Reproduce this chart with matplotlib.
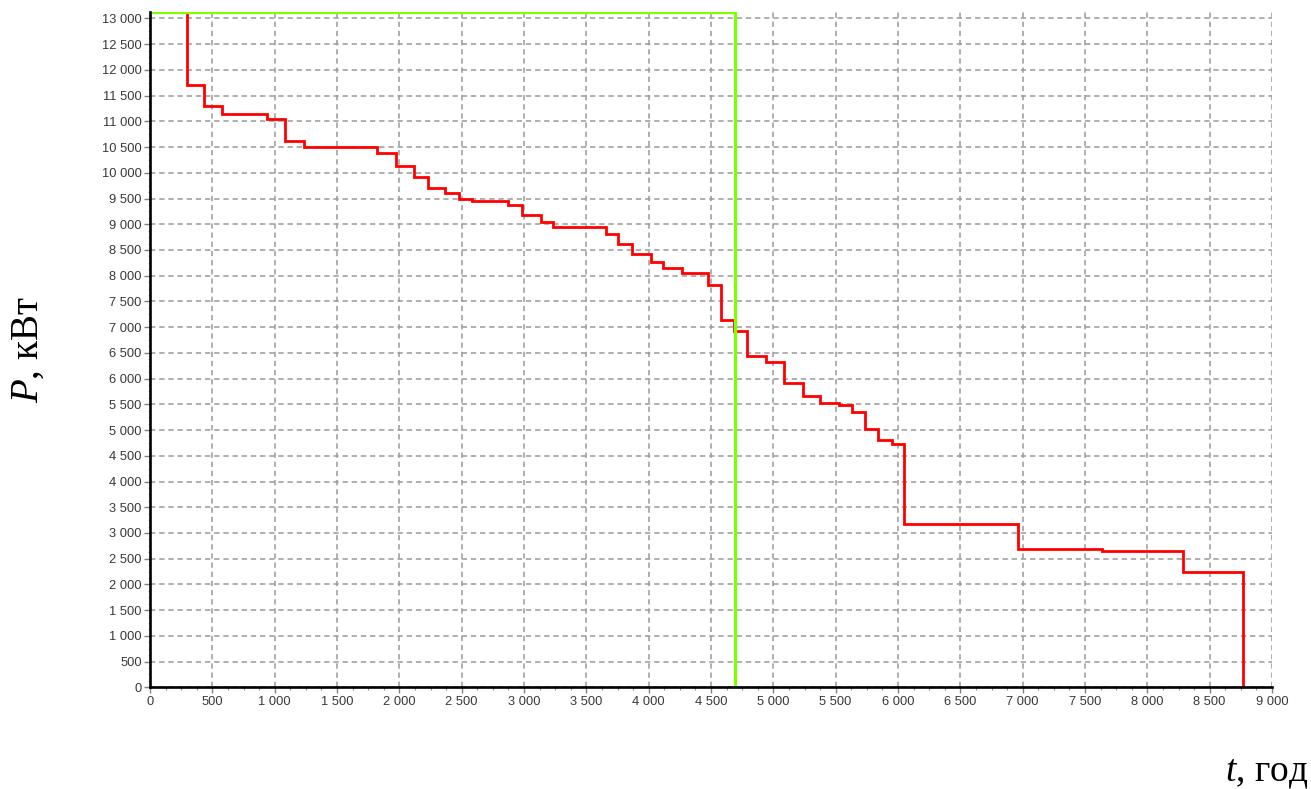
import matplotlib
matplotlib.use("Agg")
import matplotlib.pyplot as plt
from matplotlib.ticker import MultipleLocator, FuncFormatter, AutoMinorLocator

# Step boundaries (hours) and power levels (kW) of the load duration curve
t_edges = [0, 294, 431, 580, 941, 1086, 1236, 1822, 1971, 2121, 2227, 2369, 2482,
           2586, 2872, 2987, 3134, 3230, 3656, 3758, 3868, 4017, 4114, 4265, 4475,
           4582, 4686, 4788, 4940, 5087, 5234, 5376, 5526, 5633, 5732, 5841, 5952,
           6050, 6962, 7639, 8286, 8767]
p_levels = [13120, 11700, 11300, 11150, 11040, 10620, 10510, 10380, 10130, 9920,
            9710, 9600, 9495, 9450, 9380, 9180, 9035, 8950, 8820, 8610, 8415, 8265,
            8150, 8050, 7820, 7140, 6930, 6445, 6320, 5905, 5665, 5525, 5485, 5355,
            5020, 4800, 4720, 3165, 2695, 2650, 2250]

# Equivalent rectangle: maximum power and time of maximum use
p_max = 13120
t_max = 4696

plt.rcParams['mathtext.fontset'] = 'custom'
plt.rcParams['mathtext.it'] = 'Liberation Serif:italic'
plt.rcParams['mathtext.rm'] = 'Liberation Serif'

fig = plt.figure(figsize=(13.11, 7.89), dpi=100)
ax = fig.add_axes([150/1311, 101.7/789, (1272-150)/1311, (687.3-12.3)/789])

# build step path
xs, ys = [], []
for i, p in enumerate(p_levels):
    xs += [t_edges[i], t_edges[i+1]]
    ys += [p, p]
xs.append(t_edges[-1]); ys.append(0)

ax.plot(xs, ys, color='#ff0000', lw=2.0, zorder=3, solid_joinstyle='miter')
ax.plot([0, t_max, t_max], [p_max, p_max, 0], color='#7fff00', lw=2.3, zorder=4)

ax.set_xlim(0, 9000)
ax.set_ylim(0, p_max)
ax.xaxis.set_major_locator(MultipleLocator(500))
ax.yaxis.set_major_locator(MultipleLocator(500))
ax.xaxis.set_minor_locator(AutoMinorLocator(4))
ax.yaxis.set_minor_locator(AutoMinorLocator(4))
fmt = FuncFormatter(lambda v, pos: f"{v:,.0f}".replace(",", " "))
ax.xaxis.set_major_formatter(fmt)
ax.yaxis.set_major_formatter(fmt)

ax.grid(True, which='major', color='#9a9a9a', linestyle=(0, (3.5, 2.5)), lw=1.1, zorder=1)
for s in ['top', 'right']:
    ax.spines[s].set_visible(False)
for s in ['left', 'bottom']:
    ax.spines[s].set_linewidth(1.9)
    ax.spines[s].set_color('black')
    ax.spines[s].set_zorder(5)

ax.tick_params(which='major', length=4, width=1, color='#808080', pad=2,
               labelsize=9.3, labelcolor='#383838')
ax.tick_params(axis='x', which='minor', length=2.5, width=0.8, color='#909090')
ax.tick_params(axis='y', which='minor', length=1.5, width=0.6, color='#b0b0b0')
for lab in ax.get_xticklabels() + ax.get_yticklabels():
    lab.set_fontfamily('Liberation Sans')

fig.text(28/1311, 1 - 350/789, '$P$, кВт', rotation=90, ha='center', va='center',
         fontsize=28, fontfamily='Liberation Serif')
fig.text(1308/1311, 9/789, '$t$, год', ha='right', va='baseline',
         fontsize=27, fontfamily='Liberation Serif')

fig.savefig('out.png', dpi=100)
